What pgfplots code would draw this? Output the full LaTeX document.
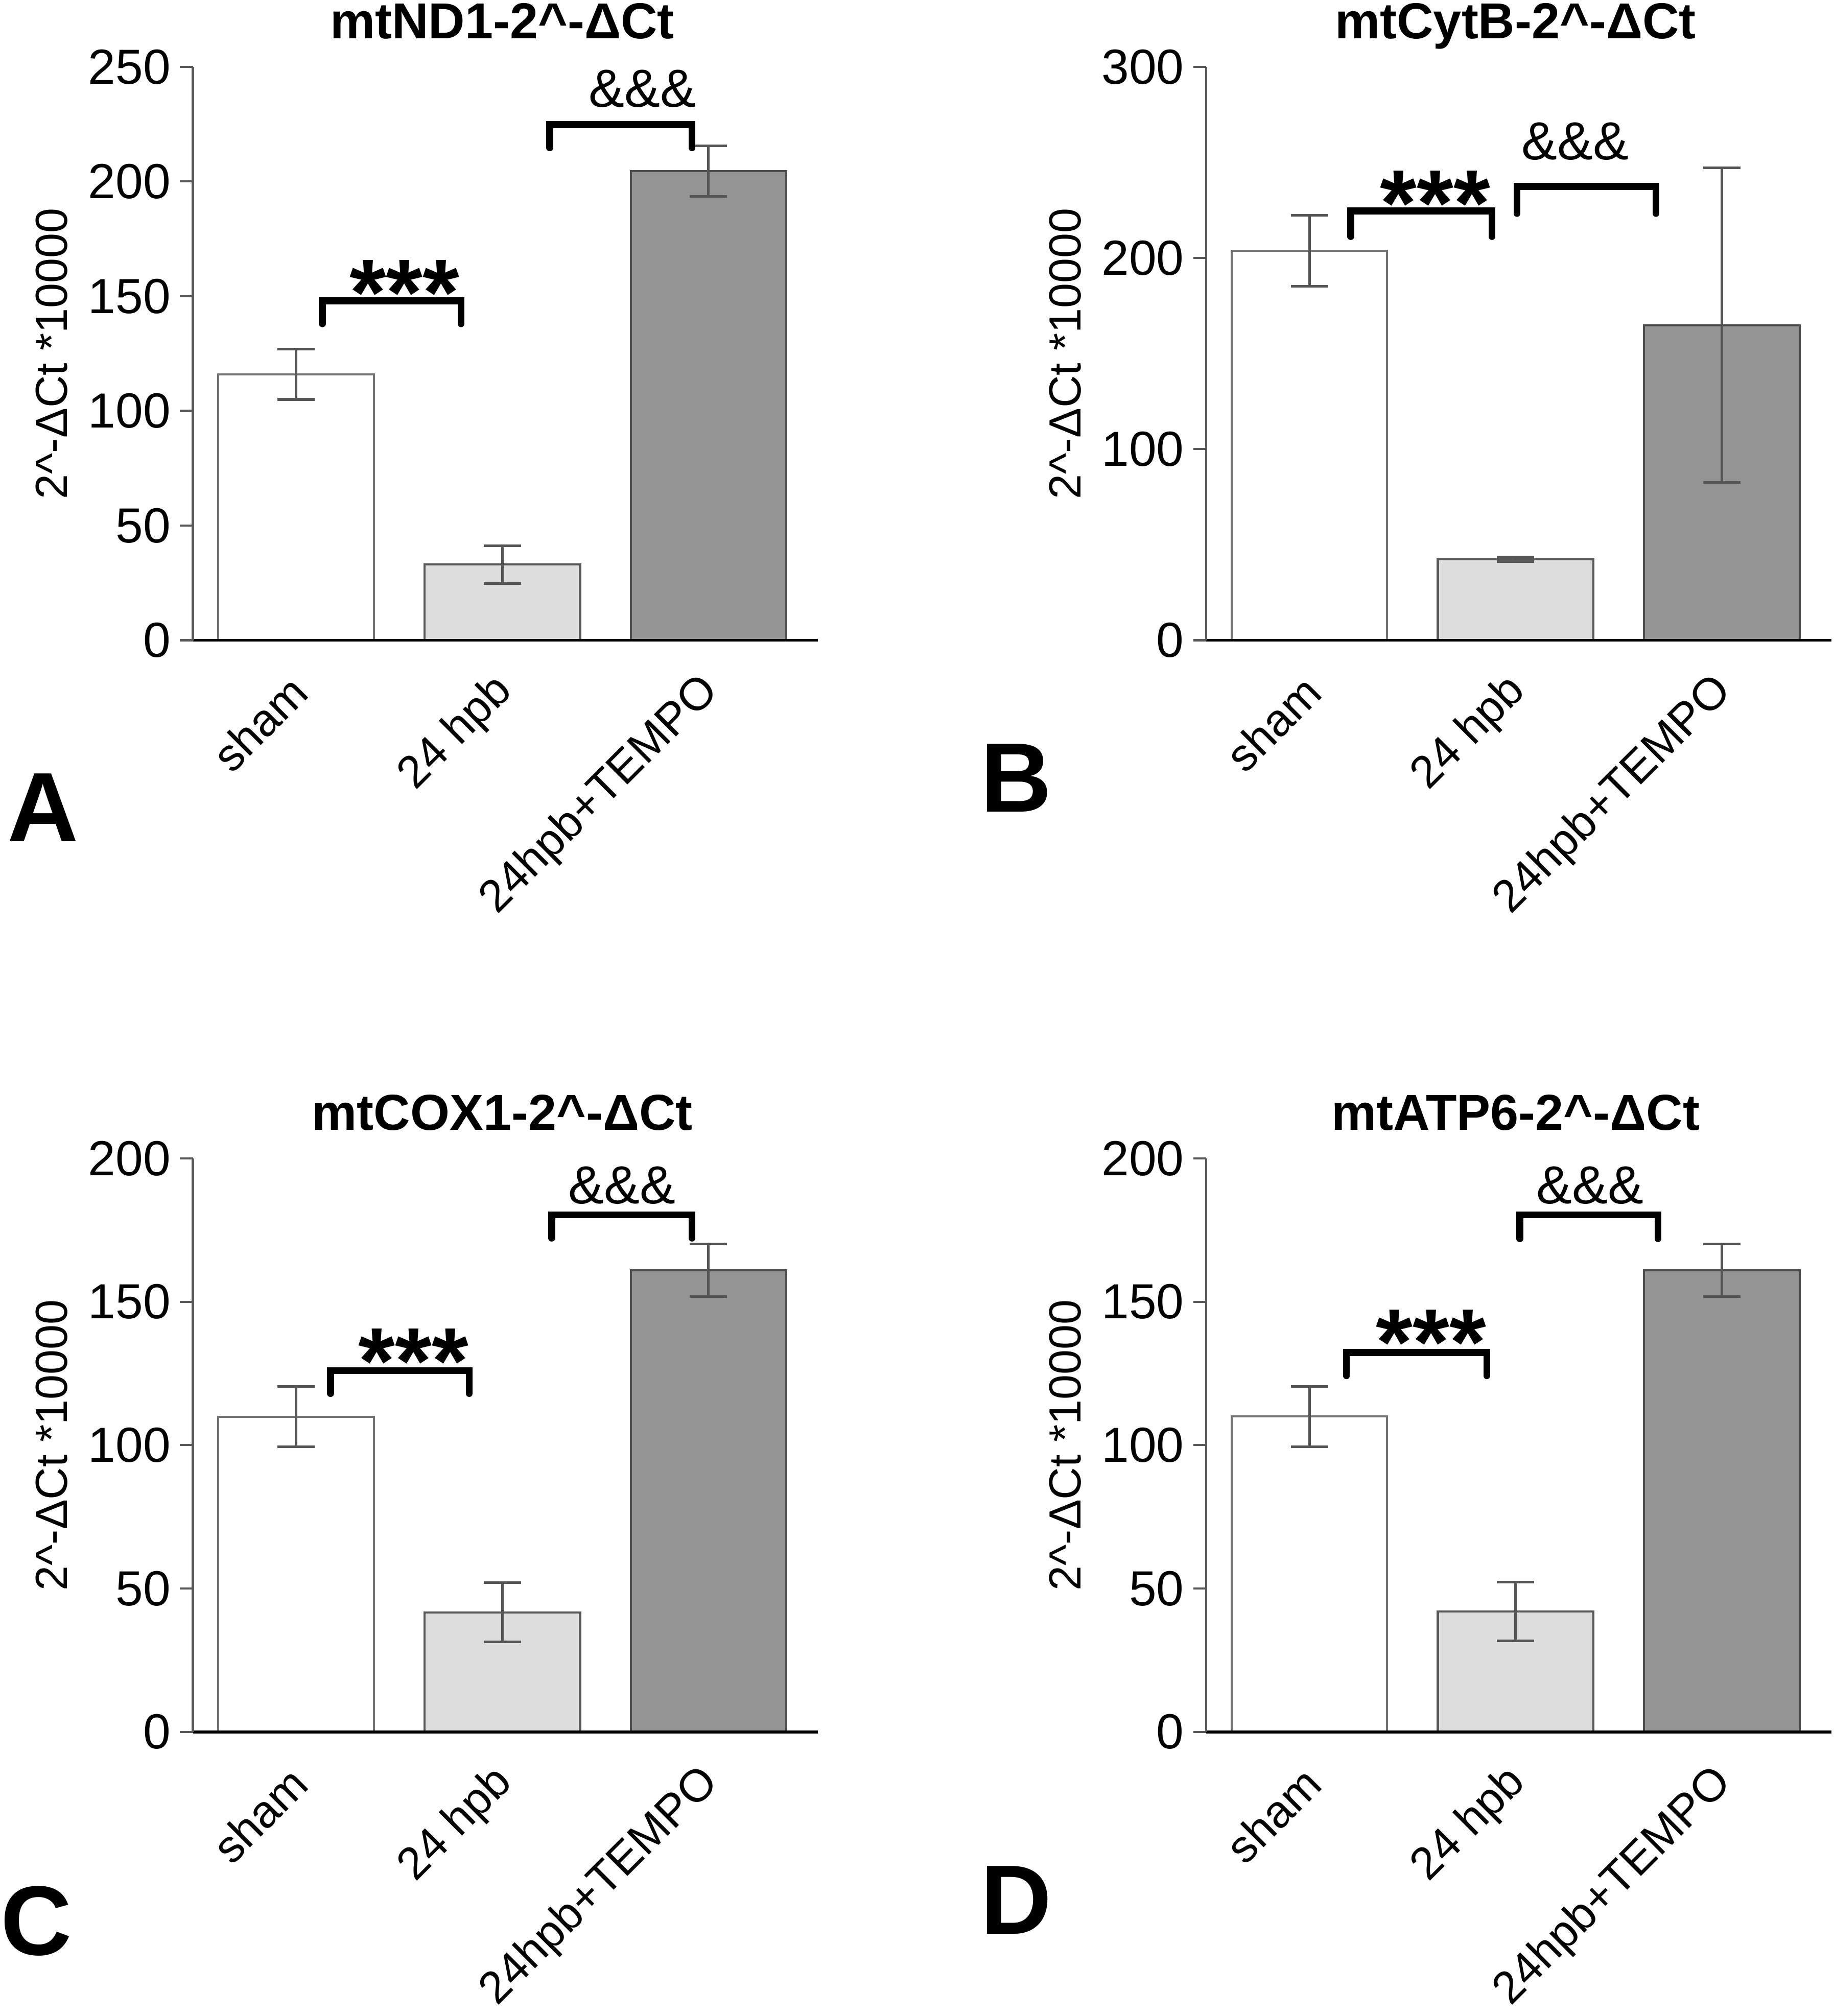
\documentclass[border=0pt]{standalone}
\usepackage{pgfplots}
\pgfplotsset{compat=1.18}
\usepackage{fontspec}
\setmainfont{Liberation Sans}
\definecolor{lightbar}{HTML}{DDDDDD}
\definecolor{darkbar}{HTML}{959595}
\definecolor{errc}{HTML}{555555}
\pgfplotsset{
  panel/.style={
    scale only axis, width=145.8pt, height=133.8pt,
    anchor=south west, clip=false, axis on top,
    xmin=-0.5, xmax=2.53, ymin=0,
    axis x line*=bottom, axis y line*=left,
    x axis line style={black, line width=0.7pt},
    y axis line style={black!65, line width=0.5pt},
    ybar, bar width=36.3pt, bar shift=0pt,
    xtick={0,1,2}, xticklabels={sham,24 hpb,24hpb+TEMPO},
    xtick style={draw=none},
    tick align=outside, major tick length=3pt,
    ytick style={black!65, line width=0.5pt},
    /pgf/number format/assume math mode=true,
    yticklabel style={font=\fontsize{11.5}{12}\selectfont, inner sep=2pt},
    xticklabel style={font=\fontsize{10.6}{12}\selectfont, anchor=east, rotate=45, inner sep=0pt, xshift=1.2pt},
    xticklabel shift=8pt,
    title style={font=\bfseries\fontsize{11.8}{14}\selectfont, at={(axis description cs:0.495,1)}, anchor=base, yshift=0.6pt},
    ylabel={2\string^-ΔCt *10000},
    ylabel style={font=\fontsize{10.5}{12}\selectfont, at={(axis description cs:-0.226,0.5)}, anchor=center},
  },
  sbar/.style={fill=white, draw=black!55, line width=0.5pt},
  hbar/.style={fill=lightbar, draw=black!65, line width=0.5pt},
  tbar/.style={fill=darkbar, draw=black!70, line width=0.5pt},
  errs/.style={error bars/y dir=both, error bars/y explicit,
               error bars/error bar style={errc, line width=0.6pt},
               error bars/error mark options={errc, line width=0.6pt, mark size=4.35pt, rotate=90}},
}
\newcommand{\bracket}[4]{% x1,x2,ytop,yleg
  \draw[line width=1.6pt, line cap=round] (axis cs:#1,#4) -- (axis cs:#1,#3) -- (axis cs:#2,#3) -- (axis cs:#2,#4);}
\newcommand{\stars}[2]{\node[anchor=north, inner sep=0pt, font=\bfseries\fontsize{22}{22}\selectfont] at (axis cs:#1,#2) {***};}
\newcommand{\amps}[2]{\node[anchor=center, inner sep=0pt, font=\fontsize{12.5}{13}\selectfont] at (axis cs:#1,#2) {\&\&\&};}
\begin{document}
\begin{tikzpicture}
\useasboundingbox (0,0) rectangle (427.8pt,470.4pt);
% Panel A
\begin{axis}[panel, at={(45pt,321pt)}, ymax=250, ytick={0,50,...,250}, title={mtND1-2\string^-ΔCt}]
\addplot[sbar, errs] coordinates {(0,116) +- (0,11)};
\addplot[hbar, errs] coordinates {(1,33) +- (0,8.3)};
\addplot[tbar, errs] coordinates {(2,204.6) +- (0,11)};
\bracket{0.128}{0.80}{148}{138}
\stars{0.526}{166}
\bracket{1.23}{1.92}{224.8}{214.7}
\amps{1.68}{240.5}
\draw[black, line width=0.7pt] (axis cs:-0.5,0) -- ++(-3pt,0);
\end{axis}
% Panel B
\begin{axis}[panel, at={(281.4pt,321pt)}, ymax=300, ytick={0,100,...,300}, title={mtCytB-2\string^-ΔCt}]
\addplot[sbar, errs] coordinates {(0,203.8) +- (0,18.5)};
\addplot[hbar, errs] coordinates {(1,42.4) +- (0,1.2)};
\addplot[tbar, errs] coordinates {(2,164.8) +- (0,82.3)};
\bracket{0.2}{0.885}{224.6}{211.2}
\stars{0.61}{246}
\bracket{1.006}{1.68}{237.4}{223.3}
\amps{1.29}{261}
\draw[black, line width=0.7pt] (axis cs:-0.5,0) -- ++(-3pt,0);
\end{axis}
% Panel C
\begin{axis}[panel, at={(45pt,66.3pt)}, ymax=200, ytick={0,50,...,200}, title={mtCOX1-2\string^-ΔCt}]
\addplot[sbar, errs] coordinates {(0,109.9) +- (0,10.5)};
\addplot[hbar, errs] coordinates {(1,41.7) +- (0,10.3)};
\addplot[tbar, errs] coordinates {(2,161) +- (0,9.2)};
\bracket{0.167}{0.84}{126}{118}
\stars{0.57}{140.8}
\bracket{1.24}{1.92}{180.3}{172.2}
\amps{1.58}{190.6}
\draw[black, line width=0.7pt] (axis cs:-0.5,0) -- ++(-3pt,0);
\end{axis}
% Panel D
\begin{axis}[panel, at={(281.4pt,66.3pt)}, ymax=200, ytick={0,50,...,200}, title={mtATP6-2\string^-ΔCt}]
\addplot[sbar, errs] coordinates {(0,110) +- (0,10.5)};
\addplot[hbar, errs] coordinates {(1,42) +- (0,10.3)};
\addplot[tbar, errs] coordinates {(2,161) +- (0,9.2)};
\bracket{0.18}{0.86}{132.3}{124.2}
\stars{0.59}{147.5}
\bracket{1.02}{1.69}{180.3}{172}
\amps{1.36}{190.6}
\draw[black, line width=0.7pt] (axis cs:-0.5,0) -- ++(-3pt,0);
\end{axis}
% Panel letters
\node[anchor=south west, inner sep=0pt, font=\bfseries\fontsize{23}{23}\selectfont] at (1.5pt,273.9pt) {A};
\node[anchor=south west, inner sep=0pt, font=\bfseries\fontsize{23}{23}\selectfont] at (228.6pt,280.8pt) {B};
\node[anchor=south west, inner sep=0pt, font=\bfseries\fontsize{23}{23}\selectfont] at (0pt,13.8pt) {C};
\node[anchor=south west, inner sep=0pt, font=\bfseries\fontsize{23}{23}\selectfont] at (228.6pt,18.9pt) {D};
\end{tikzpicture}
\end{document}
